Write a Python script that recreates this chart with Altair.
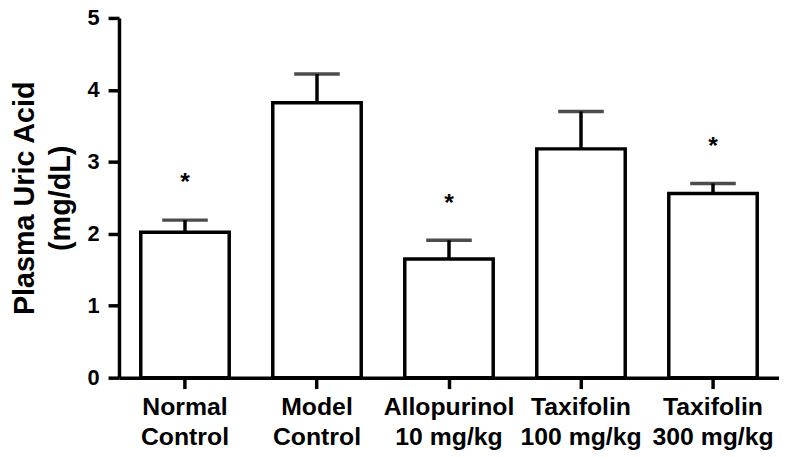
import altair as alt
import pandas as pd

groups = ["Normal|Control", "Model|Control", "Allopurinol|10 mg/kg",
          "Taxifolin|100 mg/kg", "Taxifolin|300 mg/kg"]
means = [2.02, 3.82, 1.65, 3.18, 2.56]
sems = [0.17, 0.40, 0.26, 0.52, 0.14]
signif = ["*", "", "*", "", "*"]
y_ticks = [0, 1, 2, 3, 4, 5]

df = pd.DataFrame({"group": groups, "mean": means, "sem": sems, "sig": signif})
df["upper"] = df["mean"] + df["sem"]

FONT = "Liberation Sans"
LW = 3.5

x = alt.X(
    "group:N", sort=groups, title=None,
    scale=alt.Scale(paddingInner=0.33, paddingOuter=0.165),
    axis=alt.Axis(
        labelExpr="split(datum.label, '|')", labelAngle=0,
        labelFont=FONT, labelFontSize=25, labelFontWeight="bold",
        labelColor="black", labelLineHeight=30, labelPadding=6,
        domainColor="black", domainWidth=LW, tickColor="black",
        tickWidth=LW, tickSize=11, grid=False,
    ),
)

y_scale = alt.Scale(domain=[0, 5], nice=False, zero=True)
y_axis = alt.Axis(
    values=y_ticks, format="d", title=["Plasma Uric Acid", "(mg/dL)"],
    titleFont=FONT, titleFontSize=29, titleFontWeight="bold",
    titleColor="black", titleLineHeight=36, titlePadding=12,
    labelFont=FONT, labelFontSize=22, labelFontWeight="bold",
    labelColor="black", labelPadding=9,
    domainColor="black", domainWidth=LW, tickColor="black",
    tickWidth=LW, tickSize=11, grid=False,
)

base = alt.Chart(df)

bars = base.mark_bar(fill="white", stroke="black", strokeWidth=LW).encode(
    x=x, y=alt.Y("mean:Q", scale=y_scale, axis=y_axis)
)
err = base.mark_rule(color="black", strokeWidth=LW).encode(
    x=x, y="mean:Q", y2="upper:Q"
)
cap = base.mark_tick(color="black", thickness=LW, size=46).encode(
    x=x, y="upper:Q"
)
stars = base.mark_text(
    font=FONT, fontSize=25, fontWeight="bold", color="black",
    baseline="alphabetic", dy=-30,
).encode(x=x, y="upper:Q", text="sig:N")

chart = (
    alt.layer(err, bars, cap, stars)
    .properties(
        width=666, height=363,
        autosize=alt.AutoSizeParams(type="none"),
        padding={"left": 112, "top": 8, "right": 0, "bottom": 76},
        background="white",
    )
    .configure_view(stroke=None)
)

chart.save("out.html", embed_options={"renderer": "svg", "actions": False})
